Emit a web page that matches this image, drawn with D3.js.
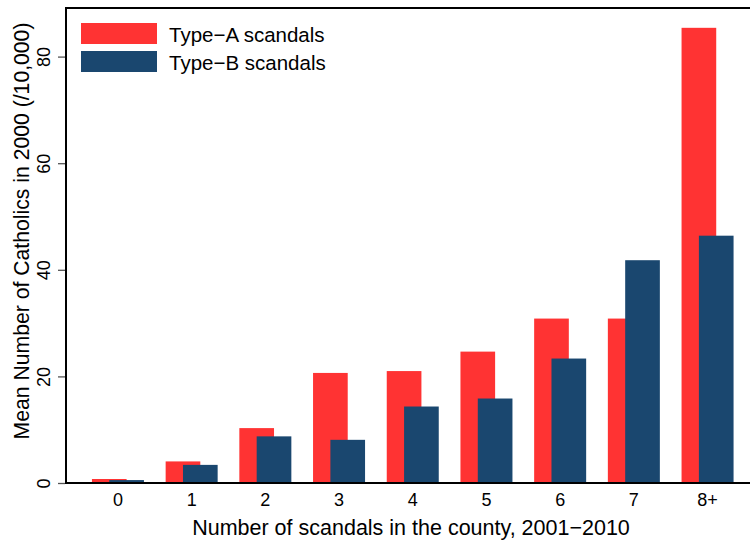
<!DOCTYPE html>
<html>
<head>
<meta charset="utf-8">
<script src="https://cdn.jsdelivr.net/npm/d3@7"></script>
<style>
  html, body { margin: 0; padding: 0; background: #fff; }
  svg { display: block; font-family: "Liberation Sans", Arial, sans-serif; }
</style>
</head>
<body>
<svg id="chart" width="750" height="541"></svg>
<script>
// Scandal-count groups and the mean Catholic population (/10,000) for each type
const categories = ["0", "1", "2", "3", "4", "5", "6", "7", "8+"];
const typeA = [0.75, 4.05, 10.3, 20.65, 21.0, 24.65, 30.85, 30.85, 85.4];
const typeB = [0.55, 3.4, 8.75, 8.1, 14.35, 15.85, 23.35, 41.8, 46.4];
const seriesNames = ["Type\u2212A scandals", "Type\u2212B scandals"];
const seriesColors = ["#ff3333", "#1a476f"];
const yTicks = [0, 20, 40, 60, 80];

const svg = d3.select("#chart");
const W = 750, H = 541;
const plot = { left: 66, right: 759.5, top: 8, bottom: 483 };

const x = d3.scaleBand()
  .domain(categories)
  .range([plot.left, plot.right])
  .paddingInner(0.2944)
  .paddingOuter(0.352);

const y = d3.scaleLinear().domain([0, 80]).range([plot.bottom, 56.6]);

const series = [typeA, typeB];
const bw = x.bandwidth();
const barW = bw * 2 / 3;

// bars: the second series sits on top, shifted by a third of the band
series.forEach((vals, si) => {
  svg.append("g").selectAll("rect")
    .data(vals.map((v, i) => ({ cat: categories[i], v })))
    .join("rect")
    .attr("x", d => x(d.cat) + si * bw / 3)
    .attr("width", barW)
    .attr("y", d => y(d.v))
    .attr("height", d => y(0) - y(d.v))
    .attr("fill", seriesColors[si]);
});

// frame: top and left borders, bottom axis line
svg.append("line").attr("x1", plot.left).attr("x2", W).attr("y1", plot.top).attr("y2", plot.top)
  .attr("stroke", "#000").attr("stroke-width", 2);
svg.append("line").attr("x1", plot.left).attr("x2", plot.left).attr("y1", plot.top - 1).attr("y2", plot.bottom)
  .attr("stroke", "#000").attr("stroke-width", 2);

// y axis
const yAxis = svg.append("g")
  .attr("transform", `translate(${plot.left - 1},0)`)
  .call(d3.axisLeft(y).tickValues(yTicks).tickSize(7).tickPadding(0));
yAxis.select(".domain").remove();
yAxis.selectAll(".tick line").attr("stroke", "#555").attr("stroke-width", 1.3);
yAxis.selectAll(".tick text")
  .attr("font-size", 18)
  .attr("fill", "#000")
  .attr("x", null).attr("dy", null)
  .attr("text-anchor", "middle")
  .attr("transform", "translate(-15,0) rotate(-90)");

// x axis
const xAxis = svg.append("g")
  .attr("transform", `translate(0,${plot.bottom})`)
  .call(d3.axisBottom(x).tickSize(0).tickPadding(10));
xAxis.select(".domain").remove();
xAxis.selectAll(".tick text").attr("font-size", 18).attr("fill", "#000").attr("dy", "0.71em");
svg.append("line").attr("x1", plot.left - 1).attr("x2", W).attr("y1", plot.bottom).attr("y2", plot.bottom)
  .attr("stroke", "#000").attr("stroke-width", 2);

// axis titles
svg.append("text")
  .attr("x", 411).attr("y", 535)
  .attr("text-anchor", "middle")
  .attr("font-size", 21.5)
  .text("Number of scandals in the county, 2001\u22122010");

svg.append("text")
  .attr("transform", `translate(29,${231}) rotate(-90)`)
  .attr("text-anchor", "middle")
  .attr("font-size", 21.2)
  .text("Mean Number of Catholics in 2000 (/10,000)");

// legend
const legend = svg.append("g").attr("transform", "translate(81,23)");
seriesNames.forEach((name, i) => {
  const g = legend.append("g").attr("transform", `translate(0,${i * 28})`);
  g.append("rect").attr("width", 76).attr("height", 21).attr("fill", seriesColors[i]);
  g.append("text").attr("x", 88).attr("y", 18.5).attr("font-size", 20.5).text(name);
});
</script>
</body>
</html>
